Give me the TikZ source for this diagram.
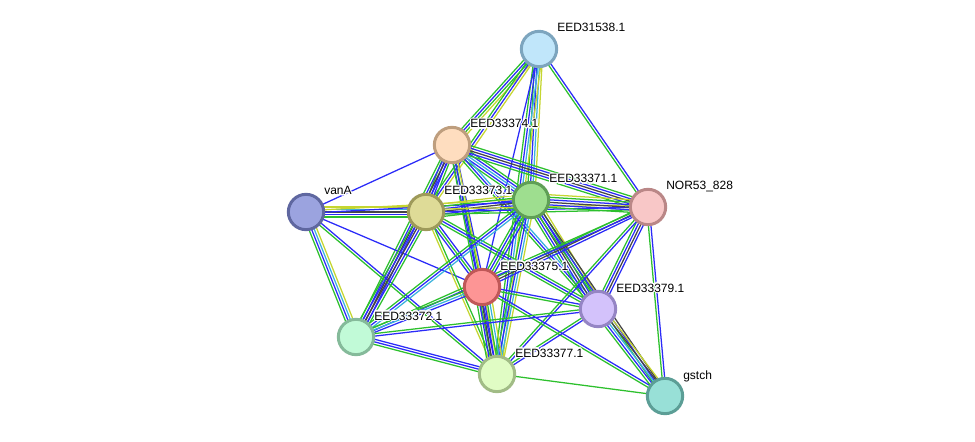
\documentclass[tikz,border=0pt]{standalone}
\usepackage{fontspec}
\setmainfont{Liberation Sans}
\usepackage{tikz}
\usepackage{contour}
\contourlength{0.8pt}
\usetikzlibrary{calc,backgrounds}

\definecolor{eg}{HTML}{2DC02D}
\definecolor{eb}{HTML}{2B2BF8}
\definecolor{ek}{HTML}{454545}
\definecolor{ec}{HTML}{3AB2DC}
\definecolor{ey}{HTML}{C5D631}

\newcommand\lnk[3]{%
	\foreach \c [count=\n] in {#3} {\xdef\nlns{\n}}%
	\foreach \c [count=\i] in {#3} {%
		\pgfmathsetmacro\off{(\i-(\nlns+1)/2)*1.9}%
		\draw[ln\c] ($(#1)!\off pt!90:(#2)$) -- ($(#2)!\off pt!-90:(#1)$);
	}%
}

\begin{document}
\begin{tikzpicture}[x=0.75pt,y=-0.75pt]
\tikzset{
	prot/.style = {circle, draw, line width = 2.25pt, minimum size = 26.5pt, inner sep = 0},
	lbl/.style = {anchor = base west, inner sep = 0, font = \fontsize{9}{10}\selectfont},
	lng/.style = {eg, line width = 0.95pt},
	lnb/.style = {eb, line width = 0.95pt},
	lnk/.style = {ek, line width = 0.95pt},
	lnc/.style = {ec, line width = 0.95pt},
	lny/.style = {ey, line width = 0.95pt},
}
\useasboundingbox (0,0) rectangle (975,442);

\node(s)[prot, fill = {rgb,255:red,192;green,230;blue,250}, draw = {rgb,255:red,125;green,165;blue,190}] at (539,49) {};
\node(t4)[prot, fill = {rgb,255:red,254;green,221;blue,191}, draw = {rgb,255:red,190;green,158;blue,126}] at (452,145) {};
\node(va)[prot, fill = {rgb,255:red,155;green,163;blue,223}, draw = {rgb,255:red,95;green,103;blue,160}] at (306,212) {};
\node(t3)[prot, fill = {rgb,255:red,222;green,219;blue,151}, draw = {rgb,255:red,158;green,154;blue,90}] at (426,212) {};
\node(t1)[prot, fill = {rgb,255:red,158;green,222;blue,143}, draw = {rgb,255:red,95;green,159;blue,86}] at (531,200) {};
\node(nr)[prot, fill = {rgb,255:red,248;green,199;blue,199}, draw = {rgb,255:red,186;green,135;blue,135}] at (648,207) {};
\node(r5)[prot, fill = {rgb,255:red,253;green,149;blue,149}, draw = {rgb,255:red,192;green,88;blue,88}] at (482,287) {};
\node(p9)[prot, fill = {rgb,255:red,211;green,194;blue,251}, draw = {rgb,255:red,149;green,133;blue,196}] at (598,309) {};
\node(q2)[prot, fill = {rgb,255:red,193;green,250;blue,215}, draw = {rgb,255:red,133;green,186;blue,154}] at (356,337) {};
\node(w7)[prot, fill = {rgb,255:red,224;green,252;blue,196}, draw = {rgb,255:red,161;green,188;blue,134}] at (497,374) {};
\node(gs)[prot, fill = {rgb,255:red,152;green,224;blue,215}, draw = {rgb,255:red,92;green,158;blue,150}] at (665,396) {};

\node(s-l)[lbl] at ([shift={(18,-17)}]s) {\contour{white}{EED31538.1}};
\node(t4-l)[lbl] at ([shift={(18,-17)}]t4) {\contour{white}{EED33374.1}};
\node(va-l)[lbl] at ([shift={(18,-17)}]va) {\contour{white}{vanA}};
\node(t3-l)[lbl] at ([shift={(18,-17)}]t3) {\contour{white}{EED33373.1}};
\node(t1-l)[lbl] at ([shift={(18,-17)}]t1) {\contour{white}{EED33371.1}};
\node(nr-l)[lbl] at ([shift={(18,-17)}]nr) {\contour{white}{NOR53\_828}};
\node(r5-l)[lbl] at ([shift={(18,-17)}]r5) {\contour{white}{EED33375.1}};
\node(p9-l)[lbl] at ([shift={(18,-17)}]p9) {\contour{white}{EED33379.1}};
\node(q2-l)[lbl] at ([shift={(18,-17)}]q2) {\contour{white}{EED33372.1}};
\node(w7-l)[lbl] at ([shift={(18,-17)}]w7) {\contour{white}{EED33377.1}};
\node(gs-l)[lbl] at ([shift={(18,-17)}]gs) {\contour{white}{gstch}};

\begin{pgfonlayer}{background}
\lnk{s}{t4}{g,b,g,y}
\lnk{s}{t3}{g,b,y}
\lnk{s}{t1}{g,b,c,y}
\lnk{s}{w7}{g,b,c,y}
\lnk{s}{r5}{b}
\lnk{s}{nr}{g,b}
\lnk{t4}{va}{b}
\lnk{t4}{t3}{g,b,b,g}
\lnk{t4}{t1}{g,b,c,b,g}
\lnk{t4}{nr}{g,b,k,b,g}
\lnk{t4}{r5}{b,g,b}
\lnk{t4}{p9}{g,b,c}
\lnk{t4}{q2}{g,b,k,b}
\lnk{t4}{w7}{g,b,y}
\lnk{va}{t3}{g,b,k,c,y}
\lnk{va}{t1}{b,y}
\lnk{va}{q2}{g,b,c,y}
\lnk{va}{r5}{b}
\lnk{va}{w7}{g,b}
\lnk{t3}{t1}{g,b,k,b,g,y}
\lnk{t3}{nr}{g,b,y}
\lnk{t3}{r5}{b,g,b}
\lnk{t3}{p9}{g,b,g}
\lnk{t3}{q2}{g,b,k,b,g}
\lnk{t3}{w7}{y,g}
\lnk{t1}{nr}{g,b,k,b,g,y}
\lnk{t1}{r5}{g,b,g,b}
\lnk{t1}{p9}{g,b,k,b,g,y}
\lnk{t1}{q2}{g,b,c}
\lnk{t1}{w7}{g,b,c,y}
\lnk{t1}{gs}{g,b,k}
\lnk{nr}{r5}{g,k,b}
\lnk{nr}{p9}{g,b,k,b}
\lnk{nr}{q2}{g,b}
\lnk{nr}{w7}{g,b}
\lnk{nr}{gs}{g,b}
\lnk{r5}{p9}{g,b}
\lnk{r5}{q2}{g,c,b}
\lnk{r5}{w7}{g,b,k,b,g,c,y}
\lnk{r5}{gs}{g,b}
\lnk{p9}{q2}{g,b}
\lnk{p9}{w7}{g,b}
\lnk{p9}{gs}{g,b,c,k,y}
\lnk{q2}{w7}{g,b,b}
\lnk{w7}{gs}{g}
\end{pgfonlayer}

\end{tikzpicture}
\end{document}
